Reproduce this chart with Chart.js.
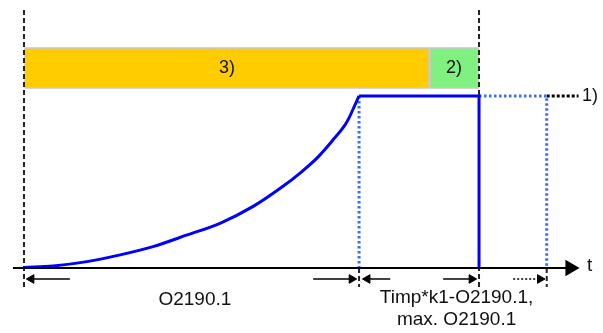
<!DOCTYPE html>
<html>
<head>
<meta charset="utf-8">
<script src="https://cdn.jsdelivr.net/npm/chart.js@4/dist/chart.umd.min.js"></script>
<style>
  body { margin: 0; background: #fff; }
  #wrap { width: 603px; height: 333px; position: relative; }
</style>
</head>
<body>
<div id="wrap"><canvas id="diagram"></canvas></div>
<script>
// time unit: 1 = O2190.1, level unit: 1 = plateau
const curveTime  = [0, 0.087, 0.188, 0.287, 0.385, 0.487, 0.585, 0.684, 0.773, 0.824, 0.875, 0.922, 0.964, 0.994, 1.0];
const curveLevel = [0.003, 0.012, 0.037, 0.076, 0.124, 0.192, 0.260, 0.358, 0.475, 0.552, 0.640, 0.744, 0.850, 0.975, 1.0];

const tRamp = 1.0;      // end of O2190.1
const tOff = 1.358;     // switch off
const tMax = 1.56;      // max. O2190.1 later
const plateau = 1.0;

const phaseNames = ['3)', '2)'];
const phaseStart = [0.003, 1.212];
const phaseEnd   = [1.209, 1.355];
const phaseColors = ['#ffcc00', '#80f080'];
const barLow = 1.047, barHigh = 1.279;

const timeLabel = 'O2190.1';
const offLabel = ['Timp*k1-O2190.1,', 'max. O2190.1'];

const BLUE = '#0000ff';
const LBLUE = '#3b6cff';

function seg(pts, color, width, dash, order) {
    return {
        data: pts.map(p => ({ x: p[0], y: p[1] })),
        showLine: true,
        borderColor: color,
        borderWidth: width,
        borderDash: dash || [],
        pointRadius: 0,
        fill: false,
        order: order
    };
}

function arrow(from, to, y, dashed) {
    const ds = seg([[from, y], [to, y]], '#000', 1.5, dashed ? [2, 2] : [], 1);
    ds.pointRadius = [0, 5];
    ds.pointStyle = 'triangle';
    ds.pointRotation = to > from ? 90 : -90;
    ds.pointBackgroundColor = '#000';
    ds.pointBorderColor = '#000';
    ds.pointBorderWidth = 1;
    return ds;
}

const datasets = [];

// phase bars
phaseNames.forEach((n, i) => {
    const ds = seg([[phaseStart[i], barLow], [phaseStart[i], barHigh], [phaseEnd[i], barHigh],
                    [phaseEnd[i], barLow], [phaseStart[i], barLow]], '#c8c8c8', 1.5, [], 9);
    ds.fill = 'shape';
    ds.backgroundColor = phaseColors[i];
    datasets.push(ds);
});

// dashed markers
datasets.push(seg([[0, 1.5], [0, -0.11]], '#222', 2, [5, 3], 8));
datasets.push(seg([[tOff, 1.5], [tOff, -0.11]], '#222', 2, [5, 3], 8));
datasets.push(seg([[tRamp, 0], [tRamp, -0.11]], '#222', 2, [5, 3], 8));
datasets.push(seg([[tMax, 0], [tMax, -0.11]], '#222', 2, [5, 3], 8));

// dotted blue
datasets.push(seg([[tRamp, plateau], [tRamp, 0]], LBLUE, 3, [2.5, 2.5], 6));
datasets.push(seg([[tOff, plateau], [tMax, plateau], [tMax, 0]], LBLUE, 3, [2.5, 2.5], 6));
datasets.push(seg([[tMax, plateau], [1.655, plateau]], '#000', 3, [3, 2], 6));

// ramp curve
const curve = seg(curveTime.map((t, i) => [t, curveLevel[i]]), BLUE, 3, [], 3);
curve.cubicInterpolationMode = 'monotone';
datasets.push(curve);
datasets.push(seg([[tRamp, plateau], [tOff, plateau], [tOff, 0]], BLUE, 3, [], 3));

// time axis
const axis = seg([[-0.033, 0], [1.63, 0]], '#000', 2, [], 2);
axis.pointRadius = [0, 7.5];
axis.pointStyle = 'triangle';
axis.pointRotation = 90;
axis.pointBackgroundColor = '#000';
axis.pointBorderColor = '#000';
datasets.push(axis);

// interval arrows
const ay = -0.064;
datasets.push(arrow(0.137, 0.022, ay));
datasets.push(arrow(0.863, 0.978, ay));
datasets.push(arrow(1.093, 1.025, ay));
datasets.push(arrow(1.251, 1.336, ay));
datasets.push(arrow(1.46, 1.54, ay, true));

const textPlugin = {
    id: 'texts',
    afterDatasetsDraw(chart) {
        const { ctx, scales: { x, y } } = chart;
        ctx.save();
        ctx.fillStyle = '#111';
        ctx.textBaseline = 'middle';
        ctx.font = '18px "Liberation Sans", Arial, sans-serif';
        ctx.textAlign = 'center';
        phaseNames.forEach((n, i) => {
            ctx.fillText(n, x.getPixelForValue((phaseStart[i] + phaseEnd[i]) / 2), y.getPixelForValue((barLow + barHigh) / 2));
        });
        ctx.textAlign = 'left';
        ctx.fillText('1)', x.getPixelForValue(1.665), y.getPixelForValue(plateau));
        ctx.font = '19px "Liberation Sans", Arial, sans-serif';
        ctx.fillText('t', x.getPixelForValue(1.68), y.getPixelForValue(0.01));
        ctx.textAlign = 'center';
        ctx.fillText(timeLabel, x.getPixelForValue(0.51), y.getPixelForValue(-0.186));
        ctx.fillText(offLabel[0], x.getPixelForValue(1.291), y.getPixelForValue(-0.172));
        ctx.fillText(offLabel[1], x.getPixelForValue(1.291), y.getPixelForValue(-0.3));
        ctx.restore();
    }
};

new Chart(document.getElementById('diagram'), {
    type: 'scatter',
    data: { datasets: datasets },
    options: {
        responsive: true,
        maintainAspectRatio: false,
        animation: false,
        layout: { padding: 0, autoPadding: false },
        plugins: { legend: { display: false }, tooltip: { enabled: false } },
        scales: {
            x: { type: 'linear', display: false, min: -0.0716, max: 1.728 },
            y: { type: 'linear', display: false, min: -0.378, max: 1.558 }
        }
    },
    plugins: [textPlugin]
});
</script>
</body>
</html>
